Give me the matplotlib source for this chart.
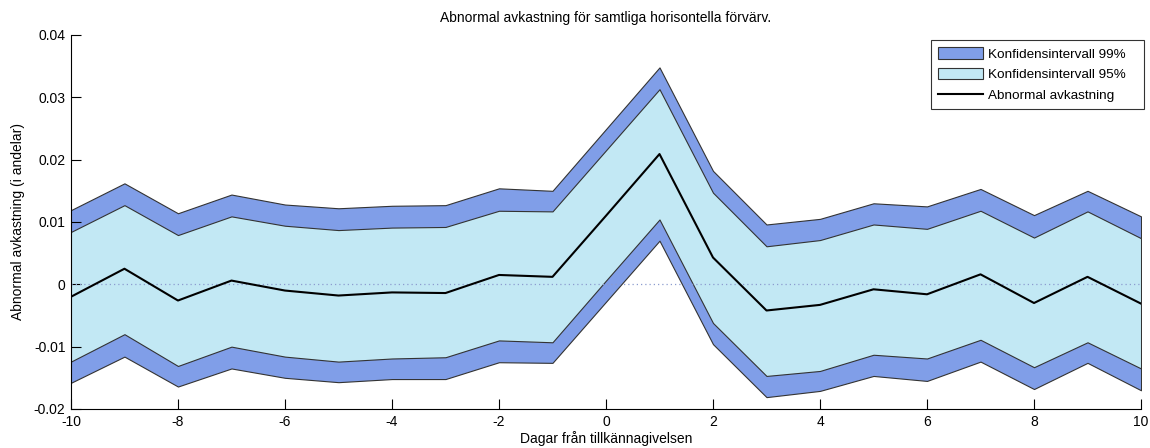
import numpy as np
import matplotlib
matplotlib.use('Agg')
import matplotlib.pyplot as plt

plt.rcParams['font.family'] = ['Liberation Sans', 'DejaVu Sans']
plt.rcParams['axes.unicode_minus'] = False

# ── Data: event window and confidence bands ──────────────────────────────────
days = np.arange(-10, 11)

abnormal = [-0.0020, 0.0025, -0.0026, 0.0006, -0.0010, -0.0018, -0.0013, -0.0014,
            0.0015, 0.0012, 0.0110, 0.0209, 0.0043, -0.0042, -0.0033, -0.0008,
            -0.0016, 0.0016, -0.0030, 0.0012, -0.0031]

upper_95 = [0.0084, 0.0127, 0.0079, 0.0109, 0.0094, 0.0087, 0.0091, 0.0092,
            0.0118, 0.0117, 0.0215, 0.0313, 0.0147, 0.0061, 0.0071, 0.0096,
            0.0089, 0.0118, 0.0075, 0.0117, 0.0074]
lower_95 = [-0.0124, -0.0080, -0.0131, -0.0100, -0.0116, -0.0124, -0.0119, -0.0117,
            -0.0090, -0.0093, 0.0006, 0.0104, -0.0062, -0.0147, -0.0139, -0.0113,
            -0.0119, -0.0089, -0.0133, -0.0093, -0.0135]

upper_99 = [0.0119, 0.0162, 0.0114, 0.0144, 0.0128, 0.0122, 0.0126, 0.0127,
            0.0154, 0.0150, 0.0249, 0.0348, 0.0182, 0.0096, 0.0105, 0.0130,
            0.0125, 0.0153, 0.0111, 0.0150, 0.0109]
lower_99 = [-0.0158, -0.0116, -0.0164, -0.0135, -0.0150, -0.0157, -0.0152, -0.0152,
            -0.0125, -0.0126, -0.0028, 0.0070, -0.0096, -0.0181, -0.0171, -0.0147,
            -0.0155, -0.0124, -0.0168, -0.0126, -0.0170]

DARK_BLUE  = '#809EE8'
LIGHT_BLUE = '#C2E8F4'
EDGE       = '#333333'

fig = plt.figure(figsize=(11.5, 4.48), dpi=100)
ax = fig.add_axes([0.0617, 0.0871, 0.9305, 0.8348])

ax.fill_between(days, lower_99, upper_99, facecolor=DARK_BLUE, edgecolor=EDGE,
                linewidth=0.8, label='Konfidensintervall 99%   ')
ax.fill_between(days, lower_95, upper_95, facecolor=LIGHT_BLUE, edgecolor=EDGE,
                linewidth=0.8, label='Konfidensintervall 95%   ')
ax.plot(days, np.zeros(len(days)), color='#8c9ccf', linestyle=(0, (1, 2.4)),
        linewidth=0.9)
ax.plot(days, abnormal, color='black', linewidth=1.5, label='Abnormal avkastning')

ax.set_xlim(-10, 10)
ax.set_ylim(-0.02, 0.04)
ax.set_xticks(np.arange(-10, 11, 2))
ax.set_yticks([-0.02, -0.01, 0, 0.01, 0.02, 0.03, 0.04])
ax.set_yticklabels(['-0.02', '-0.01', '0', '0.01', '0.02', '0.03', '0.04'])
ax.tick_params(direction='in', length=7, width=0.8, labelsize=10, pad=4)
ax.spines['top'].set_visible(False)
ax.spines['right'].set_visible(False)
ax.spines['left'].set_linewidth(0.8)
ax.spines['bottom'].set_linewidth(0.8)

ax.set_title('Abnormal avkastning för samtliga horisontella förvärv.', fontsize=10, pad=9.5)
ax.set_xlabel('Dagar från tillkännagivelsen', fontsize=10, labelpad=2)
ax.set_ylabel('Abnormal avkastning (i andelar)', fontsize=10, labelpad=6)

leg = ax.legend(loc='upper right', bbox_to_anchor=(1.0028, 0.9866), fontsize=9.7,
                frameon=True, fancybox=False, borderpad=0.55, handlelength=3.3,
                handleheight=0.9, labelspacing=0.55, handletextpad=0.35,
                borderaxespad=0)
leg.get_frame().set_edgecolor('black')
leg.get_frame().set_linewidth(0.8)

fig.savefig('out.png', dpi=100)
